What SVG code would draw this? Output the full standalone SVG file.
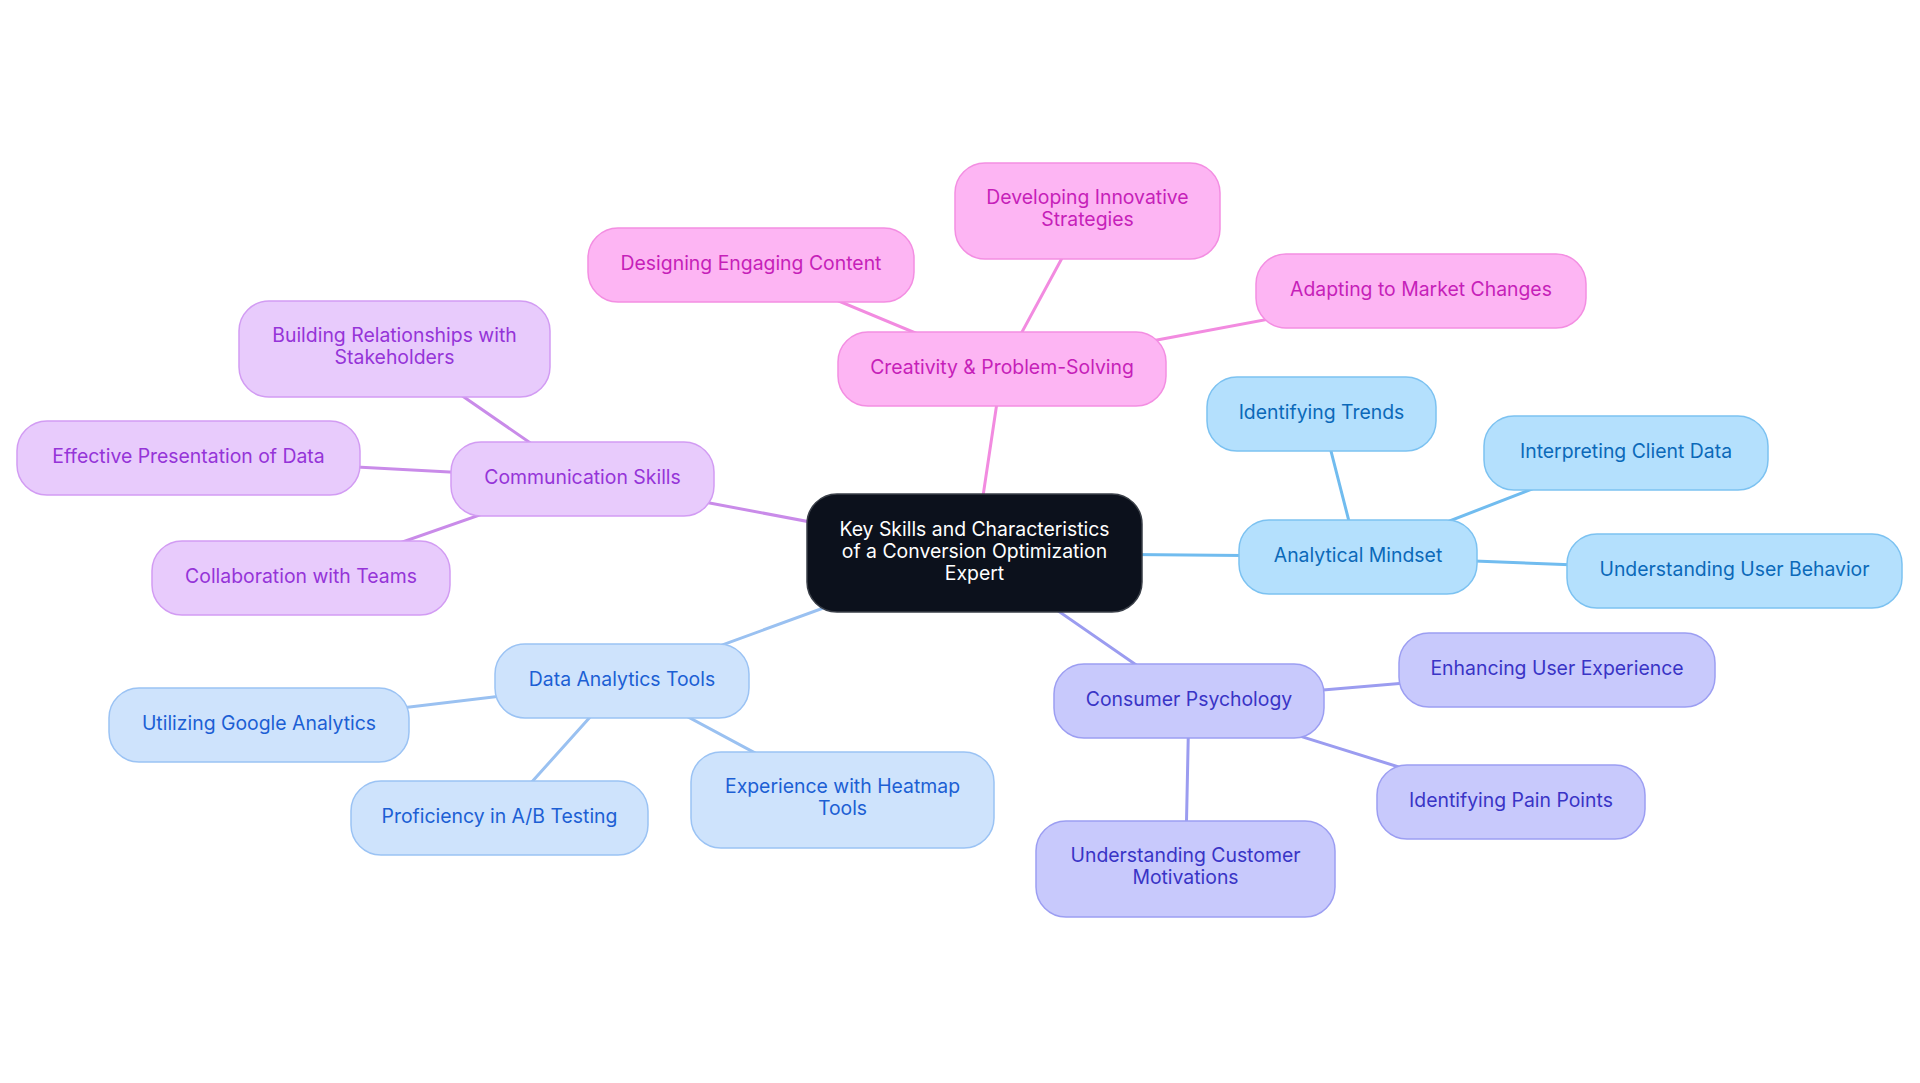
<svg xmlns="http://www.w3.org/2000/svg" width="1920" height="1083" viewBox="0 0 1920 1083">
<style>
text{font-family:Inter,"Noto Sans","Liberation Sans",sans-serif;font-size:19.4px;text-anchor:middle;dominant-baseline:central}
.lk{fill:none;stroke-width:3;stroke-linecap:round}
.pu rect{fill:#e8cbfc;stroke:#d29cf3;stroke-width:1.5}.pu text{fill:#9534d8}
.pk rect{fill:#fdb5f3;stroke:#f38ee2;stroke-width:1.5}.pk text{fill:#c61fb9}
.sk rect{fill:#b4e0fd;stroke:#7cc2f1;stroke-width:1.5}.sk text{fill:#0b69b9}
.pb rect{fill:#cee3fc;stroke:#9bc3f4;stroke-width:1.5}.pb text{fill:#1c5fd4}
.in rect{fill:#c8c9fc;stroke:#9c9ef2;stroke-width:1.5}.in text{fill:#3934c6}
</style>
<rect width="1920" height="1083" fill="#ffffff"/>
<g id="connectors">
<g class="lk" stroke="#c98be9">
<line x1="974.5" y1="553" x2="582.5" y2="479"/>
<line x1="582.5" y1="479" x2="394.5" y2="349"/>
<line x1="582.5" y1="479" x2="188.5" y2="458"/>
<line x1="582.5" y1="479" x2="301" y2="577.5"/>
</g>
<g class="lk" stroke="#f28be0">
<line x1="974.5" y1="553" x2="1002" y2="369"/>
<line x1="1002" y1="369" x2="751" y2="264.5"/>
<line x1="1002" y1="369" x2="1087.5" y2="211"/>
<line x1="1002" y1="369" x2="1421" y2="290.5"/>
</g>
<g class="lk" stroke="#71bcef">
<line x1="974.5" y1="553" x2="1358" y2="556.5"/>
<line x1="1358" y1="556.5" x2="1321.5" y2="414"/>
<line x1="1358" y1="556.5" x2="1626" y2="452.5"/>
<line x1="1358" y1="556.5" x2="1734.5" y2="571"/>
</g>
<g class="lk" stroke="#9ac1f1">
<line x1="974.5" y1="553" x2="622" y2="681.5"/>
<line x1="622" y1="681.5" x2="259" y2="725"/>
<line x1="622" y1="681.5" x2="499.5" y2="818"/>
<line x1="622" y1="681.5" x2="842.5" y2="800"/>
</g>
<g class="lk" stroke="#9b9cf0">
<line x1="974.5" y1="553" x2="1189" y2="701.5"/>
<line x1="1189" y1="701.5" x2="1557" y2="670"/>
<line x1="1189" y1="701.5" x2="1511" y2="802"/>
<line x1="1189" y1="701.5" x2="1185.5" y2="869"/>
</g>
</g>
<g id="n-root"><rect x="807" y="494" width="335" height="118" rx="30" fill="#0c111c" stroke="#3a3f48" stroke-width="1.5"/>
<text x="974.5" y="528.5" fill="#ffffff">Key Skills and Characteristics</text>
<text x="974.5" y="550.5" fill="#ffffff">of a Conversion Optimization</text>
<text x="974.5" y="572.5" fill="#ffffff">Expert</text></g>

<g id="n-comm" class="pu"><rect x="451" y="442" width="263" height="74" rx="30"/><text x="582.5" y="476.5">Communication Skills</text></g>
<g id="n-build" class="pu"><rect x="239" y="301" width="311" height="96" rx="30"/><text x="394.5" y="334.5">Building Relationships with</text><text x="394.5" y="356.5">Stakeholders</text></g>
<g id="n-effect" class="pu"><rect x="17" y="421" width="343" height="74" rx="30"/><text x="188.5" y="455.5">Effective Presentation of Data</text></g>
<g id="n-collab" class="pu"><rect x="152" y="541" width="298" height="74" rx="30"/><text x="301" y="575.5">Collaboration with Teams</text></g>

<g id="n-creat" class="pk"><rect x="838" y="332" width="328" height="74" rx="30"/><text x="1002" y="366.5">Creativity &amp; Problem-Solving</text></g>
<g id="n-design" class="pk"><rect x="588" y="228" width="326" height="74" rx="30"/><text x="751" y="262.5">Designing Engaging Content</text></g>
<g id="n-develop" class="pk"><rect x="955" y="163" width="265" height="96" rx="30"/><text x="1087.5" y="196.5">Developing Innovative</text><text x="1087.5" y="218.5">Strategies</text></g>
<g id="n-adapt" class="pk"><rect x="1256" y="254" width="330" height="74" rx="30"/><text x="1421" y="288.5">Adapting to Market Changes</text></g>

<g id="n-analyt" class="sk"><rect x="1239" y="520" width="238" height="74" rx="30"/><text x="1358" y="554.5">Analytical Mindset</text></g>
<g id="n-trends" class="sk"><rect x="1207" y="377" width="229" height="74" rx="30"/><text x="1321.5" y="411.5">Identifying Trends</text></g>
<g id="n-interp" class="sk"><rect x="1484" y="416" width="284" height="74" rx="30"/><text x="1626" y="450.5">Interpreting Client Data</text></g>
<g id="n-userb" class="sk"><rect x="1567" y="534" width="335" height="74" rx="30"/><text x="1734.5" y="568.5">Understanding User Behavior</text></g>

<g id="n-data" class="pb"><rect x="495" y="644" width="254" height="74" rx="30"/><text x="622" y="678.5">Data Analytics Tools</text></g>
<g id="n-google" class="pb"><rect x="109" y="688" width="300" height="74" rx="30"/><text x="259" y="722.5">Utilizing Google Analytics</text></g>
<g id="n-ab" class="pb"><rect x="351" y="781" width="297" height="74" rx="30"/><text x="499.5" y="815.5">Proficiency in A/B Testing</text></g>
<g id="n-heat" class="pb"><rect x="691" y="752" width="303" height="96" rx="30"/><text x="842.5" y="785.5">Experience with Heatmap</text><text x="842.5" y="807.5">Tools</text></g>

<g id="n-consumer" class="in"><rect x="1054" y="664" width="270" height="74" rx="30"/><text x="1189" y="698.5">Consumer Psychology</text></g>
<g id="n-enh" class="in"><rect x="1399" y="633" width="316" height="74" rx="30"/><text x="1557" y="667.5">Enhancing User Experience</text></g>
<g id="n-pain" class="in"><rect x="1377" y="765" width="268" height="74" rx="30"/><text x="1511" y="799.5">Identifying Pain Points</text></g>
<g id="n-motiv" class="in"><rect x="1036" y="821" width="299" height="96" rx="30"/><text x="1185.5" y="854.5">Understanding Customer</text><text x="1185.5" y="876.5">Motivations</text></g>
</svg>
